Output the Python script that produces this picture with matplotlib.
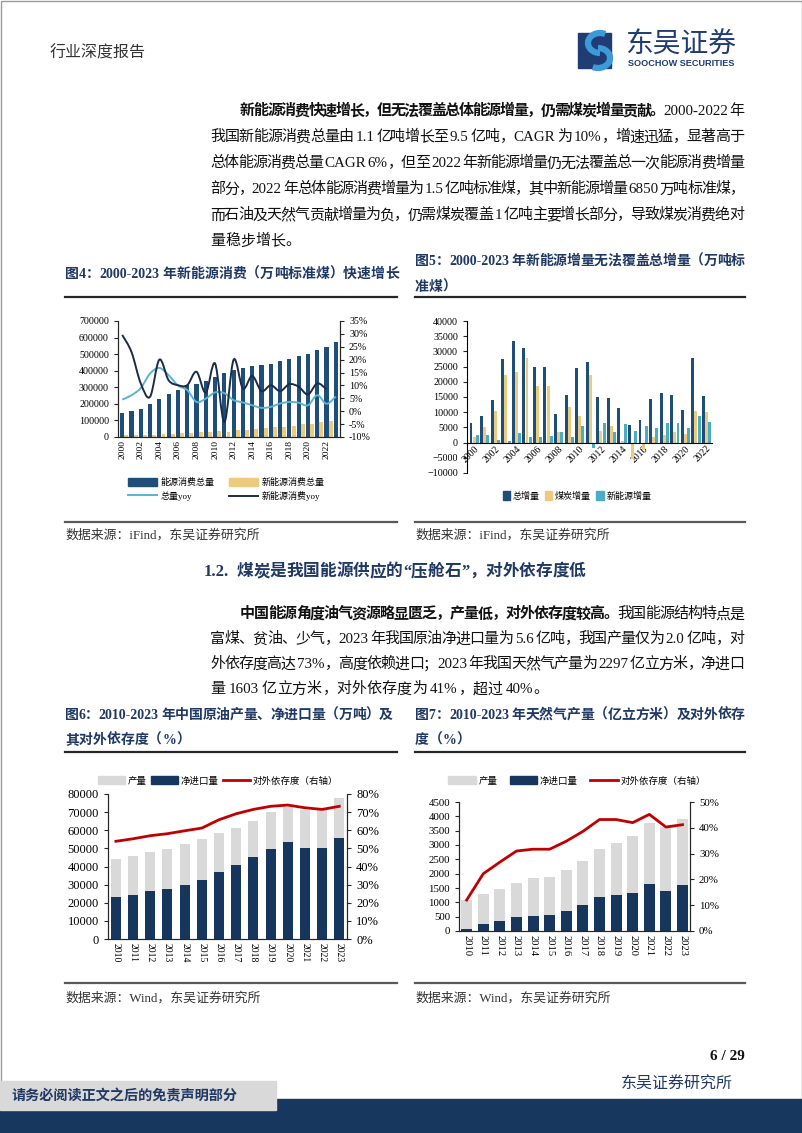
import matplotlib
matplotlib.use("Agg")
import matplotlib.pyplot as plt
import numpy as np
from matplotlib.path import Path
from matplotlib.patches import PathPatch, Rectangle, Patch, Arc
from matplotlib.lines import Line2D

# 图4 数据
years4 = list(range(2000, 2024))
total4 = [147000, 155500, 169600, 197100, 230300, 261400, 286500, 311400, 320600, 336100,
          360600, 387000, 402100, 416900, 428300, 434100, 441500, 455800, 471900, 487500,
          498300, 525900, 541000, 572000]
new4 = [11000, 13000, 14000, 14700, 17500, 19600, 21600, 23600, 27300, 29000, 34600, 33000,
        39500, 43000, 49000, 52700, 58000, 62500, 69000, 75500, 80300, 89000, 96600]
total_yoy4 = [4.5, 6.2, 9.0, 14.6, 16.8, 14.0, 10.0, 8.2, 3.6, 4.9, 7.3, 7.0, 4.3, 3.4, 2.3,
              1.3, 1.7, 3.0, 3.6, 3.3, 2.3, 6.2, 2.9, 5.7]
new_yoy4 = [29.6, 23.0, 10.8, 5.6, 20.0, 12.0, 10.1, 10.1, 15.3, 7.2, 18.5, -4.2, 20.0, 8.8,
            13.7, 7.8, 10.1, 7.8, 10.5, 9.5, 6.5, 10.8, 8.5]

# 图5 数据
years5 = list(range(2000, 2023))
tot5 = [6500, 8700, 14000, 27500, 33300, 31000, 25000, 25000, 9400, 15700, 24700, 26400,
        15100, 14800, 11500, 5900, 7400, 14400, 16200, 15700, 10800, 27800, 15200]
coal5 = [1700, 5000, 10500, 22300, 23300, 27700, 18500, 18700, 3500, 11700, 8900, 22300,
         3800, 5600, 600, -5400, -2400, 2000, 2500, 3400, 2800, 10500, 10200]
newe5 = [2500, 2500, 1000, 600, 3000, 2000, 2000, 2300, 3600, 2000, 5400, -1700, 6500, 3500,
         6100, 3900, 5400, 4700, 6500, 6300, 4700, 8800, 6900]

# 图6 / 图7 数据
years6 = list(range(2010, 2024))
oil_imp = [23000, 24300, 26300, 27400, 30000, 32400, 37100, 40600, 45200, 49800, 53300,
           50400, 50000, 55500]
oil_prod = [21300, 21500, 21700, 22300, 22400, 22800, 21400, 20600, 20100, 20400, 19500,
            21000, 21400, 22300]
oil_dep = [53.9, 55.3, 57.0, 58.1, 59.7, 61.2, 65.8, 69.1, 71.5, 73.2, 73.9, 72.4, 71.5, 73.2]
gas_imp = [85, 245, 350, 475, 535, 560, 700, 895, 1185, 1265, 1325, 1630, 1405, 1600]
gas_prod = [1010, 1060, 1130, 1200, 1310, 1330, 1420, 1530, 1690, 1810, 1980, 2150, 2220, 2300]
gas_dep = [12.0, 22.2, 26.7, 31.0, 31.7, 31.7, 34.8, 38.6, 43.2, 43.2, 42.0, 45.2, 40.3, 41.2]

W, H = 802, 1133
NAVY = "#1F3864"
plt.rcParams["font.family"] = ["Liberation Serif", "Noto Sans CJK SC", "DejaVu Sans"]
plt.rcParams["axes.linewidth"] = 0.8

fig = plt.figure(figsize=(W / 100, H / 100), dpi=100)
bg = fig.add_axes([0, 0, 1, 1])
bg.set_xlim(0, W)
bg.set_ylim(H, 0)
bg.axis("off")
renderer = fig.canvas.get_renderer()


def px_axes(l, t, r, b):
    return fig.add_axes([l / W, 1 - b / H, (r - l) / W, (b - t) / H])


def line_text(y, segs, x0, x1=None, size=10.8, color="#111111"):
    # 逐字排版, 两端对齐
    items = []
    for text, bold in segs:
        run = ""
        for ch in text:
            if ord(ch) > 0x2E7F or ch == " ":
                if run:
                    items.append((run, bold))
                    run = ""
                items.append((ch, bold))
            else:
                run += ch
        if run:
            items.append((run, bold))
    objs = []
    base = y + 0.36 * size * 100 / 72
    for tok, bold in items:
        if tok == " ":
            objs.append((None, size * 100 / 72 * 0.22))
            continue
        t = bg.text(0, base, tok, fontsize=size, color=color, va="baseline", ha="left",
                    fontweight="bold" if bold else "normal")
        objs.append((t, t.get_window_extent(renderer).width))
    total = sum(w for _, w in objs)
    gap = (x1 - x0 - total) / (len(objs) - 1) if x1 is not None and len(objs) > 1 else 0
    x = x0
    for t, w in objs:
        if t is not None:
            t.set_x(x)
        x += w + gap


def smooth_path(xs, ys):
    pts = np.column_stack([xs, ys]).astype(float)
    n = len(pts)
    verts = [pts[0]]
    codes = [Path.MOVETO]
    for i in range(n - 1):
        p0 = pts[i - 1] if i > 0 else pts[i]
        p3 = pts[i + 2] if i + 2 < n else pts[i + 1]
        verts += [pts[i] + (pts[i + 1] - p0) / 6, pts[i + 1] - (p3 - pts[i]) / 6, pts[i + 1]]
        codes += [Path.CURVE4] * 3
    return Path(verts, codes)


# ---------- 页眉 ----------
bg.add_patch(Rectangle((0.5, 0.5), W - 1, H - 1, fill=False, ec="#9a9a9a", lw=1))
bg.text(50, 53, "行业深度报告", fontsize=11.5, color="#333333", va="center")
bg.add_patch(Rectangle((578, 33), 33, 35, color="#1F3C74"))
bg.add_patch(Arc((600, 43), 24, 20, theta1=90, theta2=300, lw=4.5, color="#3C9AD6"))
bg.add_patch(Arc((598, 58), 24, 20, theta1=270, theta2=480, lw=4.5, color="#3C9AD6"))
bg.text(625, 45, "东吴证券", fontsize=20, color="#1F3C74", va="center", ha="left",
        family=["Noto Sans CJK SC"])
bg.text(628, 64, "SOOCHOW SECURITIES", fontsize=6.6, color="#1F3C74", va="center",
        fontweight="bold", family=["Liberation Sans"])

# ---------- 正文一 ----------
X0, XI, X1 = 210, 240, 744
line_text(110, [("新能源消费快速增长，但无法覆盖总体能源增量，仍需煤炭增量贡献。", True),
                ("2000-2022 年", False)], XI, X1)
line_text(136, [("我国新能源消费总量由 1.1 亿吨增长至 9.5 亿吨，CAGR 为 10%，增速迅猛，显著高于", False)], X0, X1)
line_text(162, [("总体能源消费总量 CAGR 6%，但至 2022 年新能源增量仍无法覆盖总一次能源消费增量", False)], X0, X1)
line_text(188, [("部分，2022 年总体能源消费增量为 1.5 亿吨标准煤，其中新能源增量 6850 万吨标准煤，", False)], X0, X1)
line_text(214, [("而石油及天然气贡献增量为负，仍需煤炭覆盖 1 亿吨主要增长部分，导致煤炭消费绝对", False)], X0, X1)
line_text(240, [("量稳步增长。", False)], X0)

# ---------- 图题 ----------
line_text(273, [("图4：2000-2023 年新能源消费（万吨标准煤）快速增长", True)], 65, size=10, color=NAVY)
line_text(260, [("图5：2000-2023 年新能源增量无法覆盖总增量（万吨标", True)], 415, 745, size=10, color=NAVY)
line_text(286, [("准煤）", True)], 415, size=10, color=NAVY)
for x0, x1 in [(65, 397), (415, 745)]:
    bg.plot([x0, x1], [297, 297], color="#262626", lw=1.6)
    bg.plot([x0, x1], [522, 522], color="#595959", lw=1.6)
    bg.text(x0, 535, "数据来源：iFind，东吴证券研究所", fontsize=9.3, color="#333333", va="center")

# ---------- 图4 ----------
ax4 = px_axes(118, 321, 340, 437)
x4 = np.arange(len(years4))
ax4.bar(x4, total4, width=0.45, color="#1F4E79", zorder=2)
ax4.bar(x4[:len(new4)] + 0.45, new4, width=0.42, color="#EDCB7E", zorder=2)
ax4.set_xlim(-0.45, len(years4) - 0.55)
ax4.set_ylim(0, 700000)
ax4.set_yticks(range(0, 700001, 100000))
ax4.set_xticks(x4[::2])
ax4.set_xticklabels([str(y) for y in years4[::2]], rotation=90, fontsize=6.8)
ax4.tick_params(axis="y", labelsize=7.2, length=3, direction="out", color="#262626")
ax4.tick_params(axis="x", length=0, pad=2)
ax4r = ax4.twinx()
ax4r.set_ylim(-10, 35)
ax4r.set_yticks(range(-10, 36, 5))
ax4r.set_yticklabels([f"{v}%" for v in range(-10, 36, 5)])
ax4r.tick_params(axis="y", labelsize=7.2, length=3, direction="out", color="#262626")
ax4r.add_patch(PathPatch(smooth_path(x4, total_yoy4), fill=False, ec="#5BB3CF", lw=1.4, zorder=3))
ax4r.add_patch(PathPatch(smooth_path(x4[:len(new_yoy4)], new_yoy4), fill=False, ec="#1C2B47", lw=1.4, zorder=4))
for a in (ax4, ax4r):
    a.spines["top"].set_visible(False)
    for s in ("left", "right", "bottom"):
        a.spines[s].set_color("#262626")
h4 = [Patch(color="#1F4E79"), Line2D([], [], color="#5BB3CF", lw=1.4),
      Patch(color="#EDCB7E"), Line2D([], [], color="#1C2B47", lw=1.4)]
fig.legend(h4, ["能源消费总量", "总量yoy", "新能源消费总量", "新能源消费yoy"], ncol=2,
           loc="center", bbox_to_anchor=(226 / W, 1 - 489.5 / H), frameon=False, fontsize=6.5,
           handlelength=3.2, handleheight=0.9, columnspacing=1.6, labelspacing=0.45,
           handletextpad=0.4)

# ---------- 图5 ----------
ax5 = px_axes(467, 321, 712, 473)
x5 = np.arange(len(years5))
ax5.bar(x5 - 0.3, tot5, width=0.28, color="#1F4E79", zorder=2)
ax5.bar(x5, coal5, width=0.28, color="#EDCB7E", zorder=2)
ax5.bar(x5 + 0.3, newe5, width=0.28, color="#4BACC6", zorder=2)
ax5.set_xlim(-0.68, len(years5) - 0.48)
ax5.set_ylim(-10000, 40000)
ax5.set_yticks(range(-10000, 40001, 5000))
ax5.spines["bottom"].set_position(("data", 0))
for s in ("top", "right"):
    ax5.spines[s].set_visible(False)
ax5.set_xticks(x5[::2])
ax5.set_xticklabels([str(y) for y in years5[::2]], rotation=45, ha="right",
                    rotation_mode="anchor", fontsize=7)
ax5.tick_params(axis="x", length=0, pad=1)
ax5.tick_params(axis="y", labelsize=7.2, length=3, direction="out", color="#262626")
h5 = [Patch(color="#1F4E79"), Patch(color="#EDCB7E"), Patch(color="#4BACC6")]
fig.legend(h5, ["总增量", "煤炭增量", "新能源增量"], ncol=3, loc="center",
           bbox_to_anchor=(577 / W, 1 - 496 / H), frameon=False, fontsize=6.5,
           handlelength=0.8, handleheight=1.0, columnspacing=0.6, handletextpad=0.3)

# ---------- 小节标题与正文二 ----------
line_text(570, [("1.2.  煤炭是我国能源供应的“压舱石”，对外依存度低", True)], 204, size=12, color=NAVY)
line_text(613, [("中国能源角度油气资源略显匮乏，产量低，对外依存度较高。", True),
                ("我国能源结构特点是", False)], XI, X1)
line_text(638, [("富煤、贫油、少气，2023 年我国原油净进口量为 5.6 亿吨，我国产量仅为 2.0 亿吨，对", False)], X0, X1)
line_text(663, [("外依存度高达 73%，高度依赖进口；2023 年我国天然气产量为 2297 亿立方米，净进口", False)], X0, X1)
line_text(688, [("量 1603 亿立方米，对外依存度为 41%，超过 40%。", False)], X0)

line_text(714, [("图6：2010-2023 年中国原油产量、净进口量（万吨）及", True)], 65, 393, size=10, color=NAVY)
line_text(739, [("其对外依存度（%）", True)], 65, size=10, color=NAVY)
line_text(714, [("图7：2010-2023 年天然气产量（亿立方米）及对外依存", True)], 415, 745, size=10, color=NAVY)
line_text(739, [("度（%）", True)], 415, size=10, color=NAVY)
for x0, x1 in [(65, 397), (415, 745)]:
    bg.plot([x0, x1], [752, 752], color="#262626", lw=1.6)
    bg.plot([x0, x1], [983, 983], color="#595959", lw=1.6)
    bg.text(x0, 998, "数据来源：Wind，东吴证券研究所", fontsize=9.3, color="#333333", va="center")


def dep_chart(ax, imp, prod, dep, ymax, ystep, rmax, rstep, ysize, xsize, bw):
    x = np.arange(len(years6))
    ax.bar(x, imp, width=bw, color="#17365D", zorder=2)
    ax.bar(x, prod, bottom=imp, width=bw, color="#D9D9D9", zorder=2)
    ax.set_xlim(-0.46, len(years6) - 0.55)
    ax.set_ylim(0, ymax)
    ax.set_yticks(np.arange(0, ymax + 1, ystep))
    ax.set_xticks(x)
    ax.set_xticklabels([str(y) for y in years6], rotation=-90, fontsize=xsize)
    ax.tick_params(axis="x", length=0, pad=3)
    ax.tick_params(axis="y", labelsize=ysize, length=3, direction="out", color="#262626")
    axr = ax.twinx()
    axr.plot(x, dep, color="#C00000", lw=2.0, zorder=3)
    axr.set_ylim(0, rmax)
    axr.set_yticks(range(0, rmax + 1, rstep))
    axr.set_yticklabels([f"{v}%" for v in range(0, rmax + 1, rstep)])
    axr.tick_params(axis="y", labelsize=ysize, length=3, direction="out", color="#262626")
    for a in (ax, axr):
        a.spines["top"].set_visible(False)
        for s in ("left", "right", "bottom"):
            a.spines[s].set_color("#262626")


h6 = [Patch(color="#D9D9D9"), Patch(color="#17365D"), Line2D([], [], color="#C00000", lw=2.0)]
lab6 = ["产量", "净进口量", "对外依存度（右轴）"]

ax6 = px_axes(108, 794, 347, 939)
dep_chart(ax6, oil_imp, oil_prod, oil_dep, 80000, 10000, 80, 10, 9, 7, 0.58)
fig.legend(h6, lab6, ncol=3, loc="center", bbox_to_anchor=(218 / W, 1 - 781 / H),
           frameon=False, fontsize=6.8, handlelength=2.9, handleheight=0.9,
           columnspacing=0.4, handletextpad=0.3)

ax7 = px_axes(459, 802, 690, 931)
dep_chart(ax7, gas_imp, gas_prod, gas_dep, 4500, 500, 50, 10, 7.8, 7.6, 0.66)
fig.legend(h6, lab6, ncol=3, loc="center", bbox_to_anchor=(577 / W, 1 - 781 / H),
           frameon=False, fontsize=6.8, handlelength=2.9, handleheight=0.9,
           columnspacing=1.3, handletextpad=0.3)

# ---------- 页脚 ----------
bg.text(745, 1057, "6 / 29", fontsize=11, fontweight="bold", ha="right", va="center", color="#111111")
bg.text(621, 1085, "东吴证券研究所", fontsize=11.5, color="#1F3864", va="center")
bg.add_patch(Rectangle((0, 1099), W, 34, color="#17375E", zorder=1))
bg.add_patch(Rectangle((0, 1081), 276, 29, color="#D9D9D9", zorder=2))
bg.text(11, 1096, "请务必阅读正文之后的免责声明部分", fontsize=10.2, fontweight="bold",
        color="#1F3864", va="center", zorder=3)

fig.savefig("out.png", dpi=100)
